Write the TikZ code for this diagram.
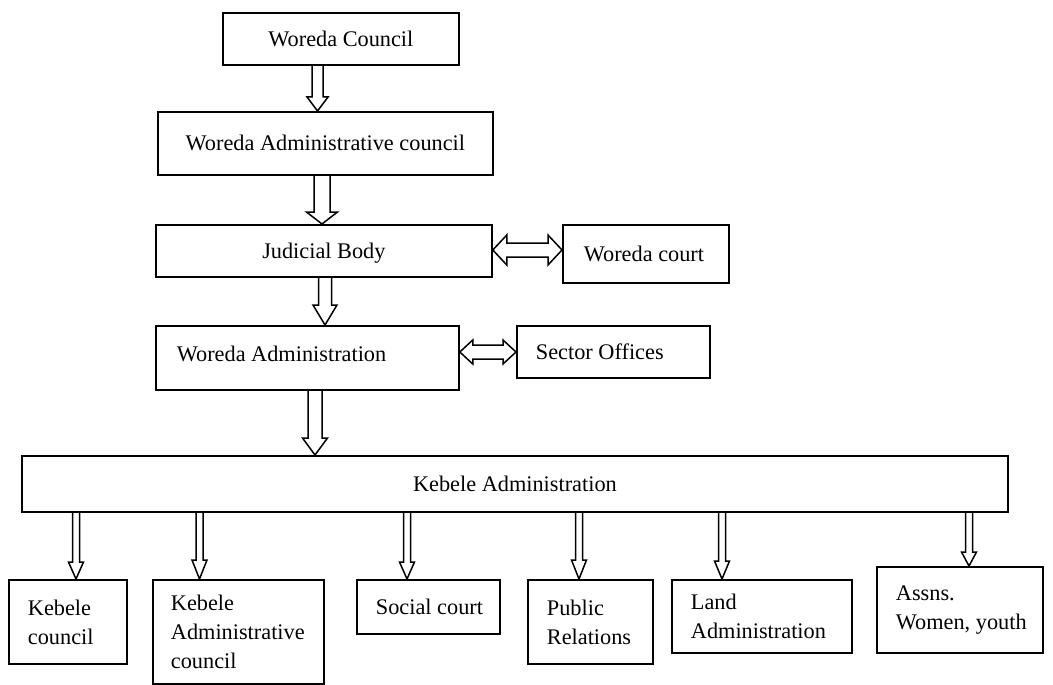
\documentclass[tikz,border=0pt]{standalone}
\usepackage{fontspec}
\setmainfont{Liberation Serif}
\usetikzlibrary{calc}
\newcommand\blkdown[6]{% from node, to node, x, shaft half width, head half width, head length
  \draw[arrline] let \p1=(#1.south), \p2=(#2.north) in
   ({(#3-#4)*1pt},\y1) -- ({(#3-#4)*1pt},{\y2+#6*1pt}) -- ({(#3-#5)*1pt},{\y2+#6*1pt})
   -- ({#3*1pt},\y2) -- ({(#3+#5)*1pt},{\y2+#6*1pt}) -- ({(#3+#4)*1pt},{\y2+#6*1pt})
   -- ({(#3+#4)*1pt},\y1);}
\newcommand\blkboth[6]{% left node, right node, y, shaft half width, head half width, head length
  \draw[arrline] let \p1=(#1.east), \p2=(#2.west) in
   (\x1,{-#3*1pt}) -- ({\x1+#6*1pt},{(-#3+#5)*1pt}) -- ({\x1+#6*1pt},{(-#3+#4)*1pt})
   -- ({\x2-#6*1pt},{(-#3+#4)*1pt}) -- ({\x2-#6*1pt},{(-#3+#5)*1pt}) -- (\x2,{-#3*1pt})
   -- ({\x2-#6*1pt},{(-#3-#5)*1pt}) -- ({\x2-#6*1pt},{(-#3-#4)*1pt})
   -- ({\x1+#6*1pt},{(-#3-#4)*1pt}) -- ({\x1+#6*1pt},{(-#3-#5)*1pt}) -- cycle;}
\begin{document}
\begin{tikzpicture}[x=1pt,y=-1pt,
  font=\fontsize{22.3}{29}\selectfont,
  cbox/.style={draw, line width=1.8pt, anchor=north west, inner sep=0pt, align=center},
  lbox/.style={draw, line width=1.8pt, anchor=north west, inner ysep=0pt, inner xsep=19pt, align=flush left},
  arrline/.style={draw, line width=1.5pt, line join=miter}]
\useasboundingbox (0,0) rectangle (1053,685);
% top chain
\node[cbox, minimum width=236pt, minimum height=52pt] (wc) at (222,12) {Woreda Council};
\node[cbox, minimum width=335pt, minimum height=63pt] (wac) at (157,111) {Woreda Administrative council};
\node[cbox, minimum width=336pt, minimum height=52pt, text height=16pt, text depth=0.4pt] (jb) at (155,224) {Judicial Body};
\node[lbox, text width=124pt, minimum height=58pt, inner xsep=21pt] (wcourt) at (562,224) {\mbox{Woreda court}};
\node[lbox, text width=261pt, minimum height=64pt, inner xsep=21pt] (wa) at (155,325) {\raisebox{8pt}{Woreda Administration}};
\node[lbox, text width=155pt, minimum height=52pt] (so) at (516,325) {\mbox{Sector Offices}};
\node[cbox, minimum width=986pt, minimum height=56pt] (ka) at (21,455) {Kebele Administration};
% bottom row
\node[lbox, text width=80pt, minimum height=84pt] (kc) at (8,579) {Kebele\\council};
\node[lbox, text width=135pt, minimum height=104pt, inner xsep=18pt] (kac) at (152,579) {Kebele\\\mbox{Administrative}\\council};
\node[lbox, text width=105pt, minimum height=54pt] (sc) at (356,579) {\mbox{Social court}};
\node[lbox, text width=87pt, minimum height=84pt] (pr) at (527,579) {Public\\Relations};
\node[lbox, text width=142pt, minimum height=73pt] (la) at (671,579) {Land\\Administration};
\node[lbox, text width=128pt, minimum height=86pt] (as) at (876,566) {Assns.\\\mbox{Women, youth}};
% vertical block arrows
\blkdown{wc}{wac}{317.5}{5.5}{10.5}{14}
\blkdown{wac}{jb}{322}{8}{15.5}{12}
\blkdown{jb}{wa}{325}{6.5}{12}{20}
\blkdown{wa}{ka}{315}{7}{12.5}{17}
\blkdown{ka}{kc}{76}{3.5}{7.5}{17}
\blkdown{ka}{kac}{199.5}{3.5}{7.5}{19}
\blkdown{ka}{sc}{407}{3.5}{7.5}{17}
\blkdown{ka}{pr}{579}{3.5}{7.5}{19}
\blkdown{ka}{la}{722}{3.5}{7.5}{18}
\blkdown{ka}{as}{969}{3.5}{7.5}{14}
% horizontal double block arrows
\blkboth{jb}{wcourt}{250}{7}{15}{14}
\blkboth{wa}{so}{352}{7}{12}{13}
\end{tikzpicture}
\end{document}
